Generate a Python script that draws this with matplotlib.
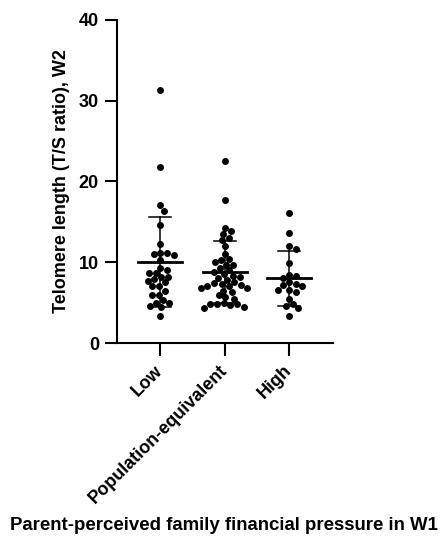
import numpy as np
import matplotlib
matplotlib.use("Agg")
import matplotlib.pyplot as plt

plt.rcParams['font.family'] = ['Liberation Sans', 'DejaVu Sans']

categories = ["Low", "Population-equivalent", "High"]

low_values = [31.3, 21.8, 17.1, 16.4, 14.6, 12.2, 11.2, 11.2, 11.0, 10.9, 10.3,
              9.3, 8.7, 8.7, 9.0, 8.2, 8.2, 7.9, 7.7, 7.5, 7.0, 7.0, 6.5, 6.0,
              5.9, 5.3, 5.0, 5.0, 4.6, 4.4, 3.3]
pop_values = [22.6, 17.7, 14.3, 13.9, 13.5, 13.0, 12.7, 12.0, 11.0, 10.4, 10.3,
              10.0, 9.7, 9.7, 9.3, 9.0, 8.8, 8.5, 8.3, 8.2, 8.0, 7.8, 7.5, 7.4,
              7.3, 7.2, 7.1, 7.0, 6.8, 6.8, 6.5, 6.3, 5.9, 5.7, 5.5, 4.9, 4.8,
              4.8, 4.8, 4.7, 4.5, 4.3]
high_values = [16.1, 13.6, 12.0, 11.7, 9.9, 8.4, 8.1, 8.3, 7.5, 7.3, 7.0, 7.2,
               6.6, 6.3, 6.6, 5.5, 4.8, 4.6, 4.3, 3.3]

group_means = [10.0, 8.8, 8.0]
group_sds = [5.6, 3.8, 3.4]

y_ticks = [0, 10, 20, 30, 40]
y_label = "Telomere length (T/S ratio), W2"
x_label = "Parent-perceived family financial pressure in W1"

groups = [low_values, pop_values, high_values]

W, H = 448, 550
fig = plt.figure(figsize=(W / 100, H / 100), dpi=100)
ax = fig.add_axes([117 / W, 1 - 343 / H, (333 - 117) / W, (343 - 20) / H])

xlim = (-0.67, 2.68)
ylim = (0, 40)
ax.set_xlim(*xlim)
ax.set_ylim(*ylim)

# beeswarm layout in pixel space
ax_w_px = 333 - 117
ax_h_px = 343 - 20
px_per_x = ax_w_px / (xlim[1] - xlim[0])
px_per_y = ax_h_px / (ylim[1] - ylim[0])
dot_d = 6.6  # pixel diameter


def swarm(vals, center):
    order = np.argsort(vals)[::-1]
    placed = []
    xs = np.zeros(len(vals))
    for i in order:
        ypx = vals[i] * px_per_y
        best = None
        for k in range(0, 80):
            for sgn in ([0] if k == 0 else [1, -1]):
                off = sgn * k * 0.5
                ok = True
                for (px, py) in placed:
                    if (px - off) ** 2 + (py - ypx) ** 2 < dot_d ** 2:
                        ok = False
                        break
                if ok:
                    best = off
                    break
            if best is not None:
                break
        placed.append((best, ypx))
        xs[i] = center + best / px_per_x
    return xs


for gi, vals in enumerate(groups):
    vals = np.array(vals)
    xs = swarm(vals, gi)
    ax.scatter(xs, vals, s=25, color='black', linewidths=0, zorder=3)
    m, sd = group_means[gi], group_sds[gi]
    ax.plot([gi - 0.34, gi + 0.34], [m, m], color='black', lw=2.0, zorder=4)
    ax.plot([gi, gi], [m - sd, m + sd], color='black', lw=1.1, zorder=2)
    for yy in (m - sd, m + sd):
        ax.plot([gi - 0.17, gi + 0.17], [yy, yy], color='black', lw=1.1, zorder=2)

for s in ['top', 'right']:
    ax.spines[s].set_visible(False)
for s in ['left', 'bottom']:
    ax.spines[s].set_linewidth(1.5)

ax.set_yticks(y_ticks)
ax.set_yticklabels([str(t) for t in y_ticks], fontsize=13, fontweight='bold')
ax.set_xticks(range(len(categories)))
ax.set_xticklabels(categories, rotation=45, ha='right', va='center',
                   rotation_mode='anchor', fontsize=13, fontweight='bold')
ax.tick_params(axis='both', length=9, width=1.5, pad=4)
ax.tick_params(axis='x', pad=9)

ax.set_ylabel(y_label, fontsize=13, fontweight='bold', labelpad=6)
fig.text(0.5, 1 - 525 / H, x_label, ha='center', va='center',
         fontsize=13.4, fontweight='bold')

fig.savefig("out.png", dpi=100, facecolor='white')
